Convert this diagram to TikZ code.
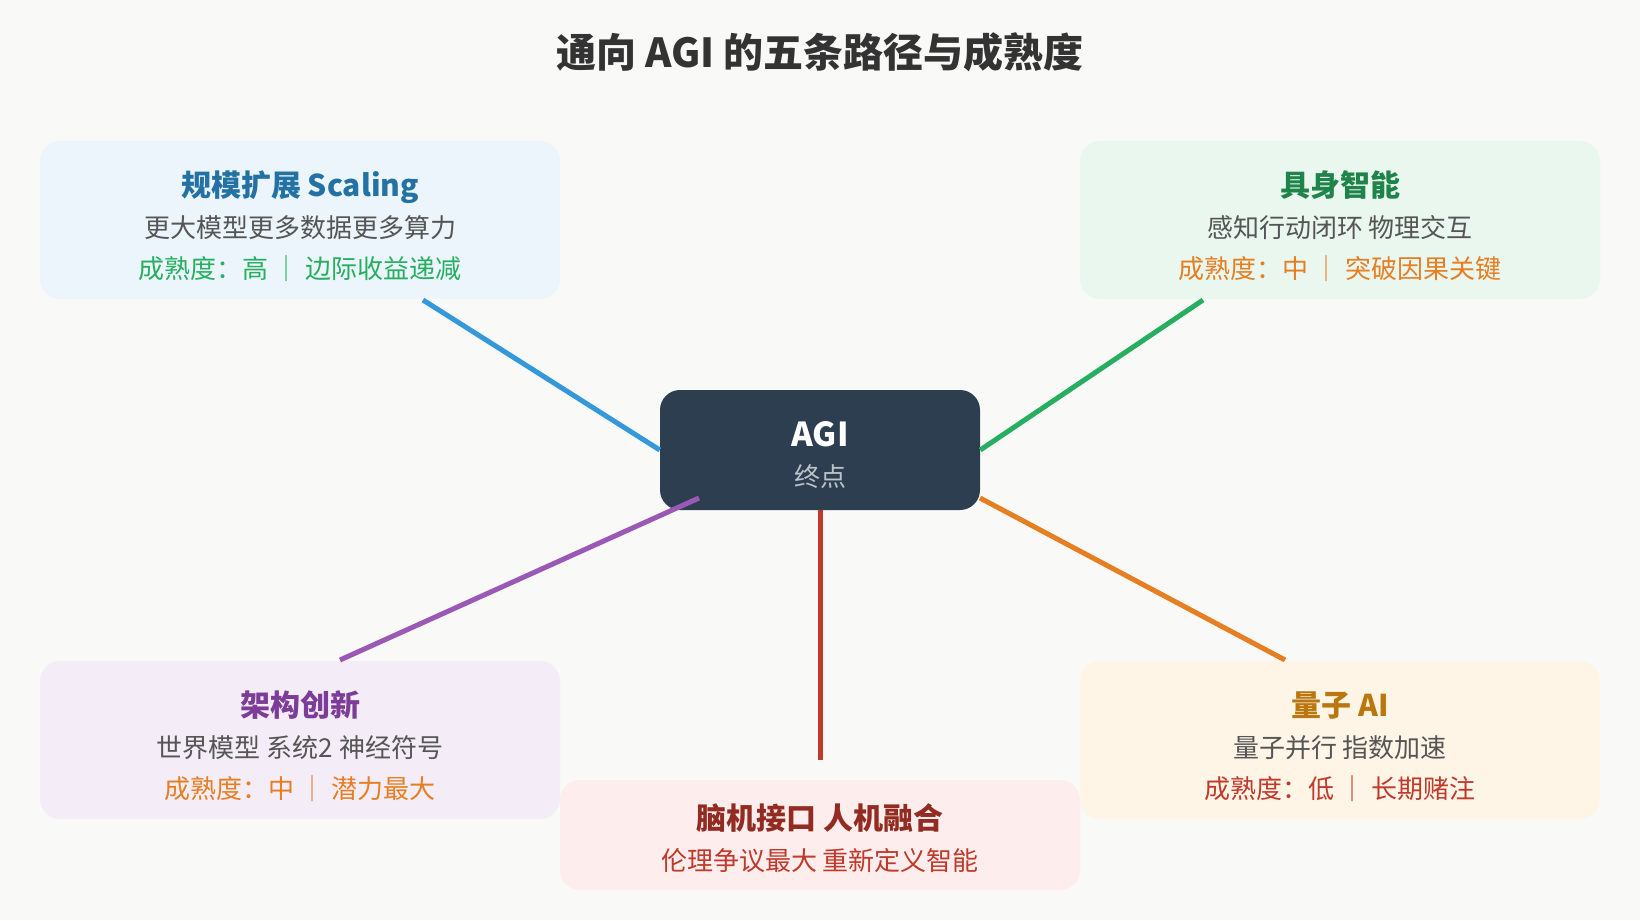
\documentclass[tikz,border=0pt]{standalone}
\usepackage{fontspec}
\setmainfont{Noto Sans CJK SC}
\definecolor{bgcol}{HTML}{F9F9F7}
\definecolor{titlecol}{HTML}{333333}
\definecolor{subcol}{HTML}{555555}
\definecolor{agicol}{HTML}{2C3E50}
\definecolor{agisub}{HTML}{BDC3C7}
\definecolor{scalbg}{HTML}{EBF5FB}
\definecolor{scalhd}{HTML}{2471A3}
\definecolor{scalln}{HTML}{3498DB}
\definecolor{embbg}{HTML}{E9F7EF}
\definecolor{embhd}{HTML}{1E8449}
\definecolor{embln}{HTML}{27AE60}
\definecolor{archbg}{HTML}{F4ECF7}
\definecolor{archhd}{HTML}{7D3C98}
\definecolor{archln}{HTML}{9B59B6}
\definecolor{quantbg}{HTML}{FEF5E7}
\definecolor{quanthd}{HTML}{B9770E}
\definecolor{quantln}{HTML}{E67E22}
\definecolor{bcibg}{HTML}{FDEDEC}
\definecolor{bcihd}{HTML}{922B21}
\definecolor{bciln}{HTML}{C0392B}
\definecolor{high}{HTML}{27AE60}
\definecolor{mid}{HTML}{E67E22}
\definecolor{low}{HTML}{C0392B}

\begin{document}
\begin{tikzpicture}[x=0.75pt,y=-0.75pt,
    card/.style={rounded corners=15pt,minimum width=390pt,minimum height=118.5pt,inner sep=0pt},
    head/.style={anchor=base,inner sep=0pt,font=\bfseries\fontsize{22.5}{27}\selectfont},
    sub/.style={anchor=base,inner sep=0pt,font=\fontsize{19.5}{24}\selectfont,text=subcol},
    link/.style={line width=3.75pt}]
  \fill[bgcol] (0,0) rectangle (1640,920);
  \node[anchor=base,font=\bfseries\fontsize{30}{36}\selectfont,text=titlecol] (title) at (820,68) {通向 AGI 的五条路径与成熟度};

  \node[card,fill=scalbg] (scal) at (300,220) {};
  \node[head,text=scalhd] (scalhead) at (300,196.5) {规模扩展 Scaling};
  \node[sub] (scalsub) at (300,237) {更大模型更多数据更多算力};
  \node[sub,text=high] (scalmat) at (300,278) {成熟度：高 ｜ 边际收益递减};

  \node[card,fill=embbg] (emb) at (1340,220) {};
  \node[head,text=embhd] (embhead) at (1340,196.5) {具身智能};
  \node[sub] (embsub) at (1340,237) {感知行动闭环 物理交互};
  \node[sub,text=mid] (embmat) at (1340,278) {成熟度：中 ｜ 突破因果关键};

  \node[card,fill=archbg] (arch) at (300,740) {};
  \node[head,text=archhd] (archhead) at (300,716.5) {架构创新};
  \node[sub] (archsub) at (300,757) {世界模型 系统2 神经符号};
  \node[sub,text=mid] (archmat) at (300,798) {成熟度：中 ｜ 潜力最大};

  \node[card,fill=quantbg] (quant) at (1340,740) {};
  \node[head,text=quanthd] (quanthead) at (1340,716.5) {量子 AI};
  \node[sub] (quantsub) at (1340,757) {量子并行 指数加速};
  \node[sub,text=low] (quantmat) at (1340,798) {成熟度：低 ｜ 长期赌注};

  \node[card,minimum height=82.5pt,fill=bcibg] (bci) at (820,835) {};
  \node[head,text=bcihd] (bcihead) at (820,829.5) {脑机接口 人机融合};
  \node[sub,text=bciln] (bcisub) at (820,870) {伦理争议最大 重新定义智能};

  \node[fill=agicol,rounded corners=15pt,minimum width=240pt,minimum height=90pt,inner sep=0pt] (agi) at (820,450) {};
  \node[anchor=base,font=\bfseries\fontsize{24.75}{30}\selectfont,text=white] (agihead) at (820,446) {AGI};
  \node[anchor=base,font=\fontsize{19.5}{24}\selectfont,text=agisub] (agisubt) at (820,486.5) {终点};

  \coordinate (scalend) at (423,300);
  \coordinate (embend) at (1203,300);
  \coordinate (archstart) at (699,498);
  \coordinate (archend) at (340,660);
  \coordinate (quantstart) at (980,498);
  \coordinate (quantend) at (1285,660);
  \coordinate (bciend) at (820,760);
  \draw[link,scalln] (agi.west) -- (scalend);
  \draw[link,embln] (agi.east) -- (embend);
  \draw[link,archln] (archstart) -- (archend);
  \draw[link,quantln] (quantstart) -- (quantend);
  \draw[link,bciln] (agi.south) -- (bciend);
\end{tikzpicture}
\end{document}
